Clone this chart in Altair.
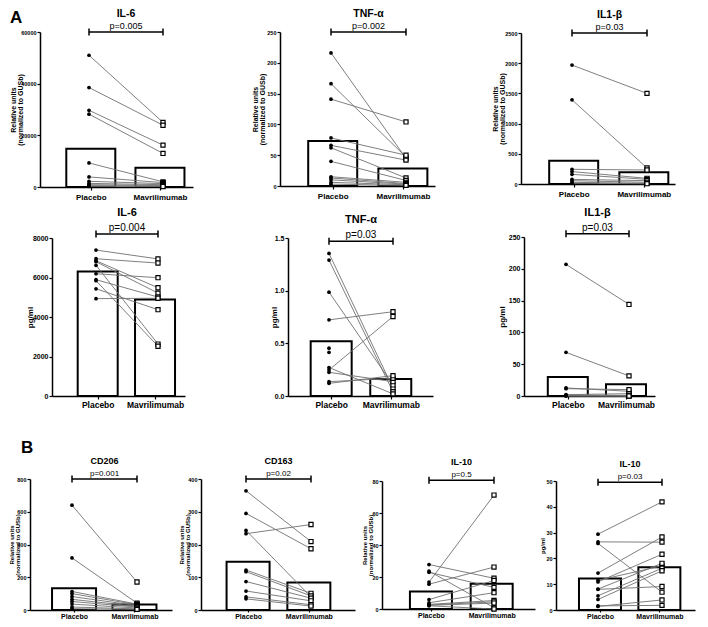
import altair as alt
import pandas as pd

FONT = "Liberation Sans"
M = 8            # page margin of the html page
W, H = 692, 611  # drawing size (708x627 window minus margins)

groups = ["Placebo", "Mavrilimumab"]
rel_title = ["Relative units", "(normalized to GUSb)"]
pg_title = "pg/ml"

# ---------------- values ----------------
# Row A1 : relative units
il6_rel_placebo = [51000, 38500, 29700, 28200, 9300, 3900, 2200, 1400, 900, 500, 250]
il6_rel_mav     = [25000, 23900, 16200, 13000, 2000, 1700, 1300, 900, 600, 400, 200]
il6_rel_bars    = [14850, 7450]
il6_rel_ticks   = [0, 20000, 40000, 60000]

tnf_rel_placebo = [216, 166, 141, 78, 66, 62, 40, 15, 13, 10, 6, 3]
tnf_rel_mav     = [45, 47, 104, 50, 42, 13, 9, 6, 4, 3, 2, 1]
tnf_rel_bars    = [73, 28.5]
tnf_rel_ticks   = [0, 50, 100, 150, 200, 250]

il1b_rel_placebo = [1969, 1394, 243, 205, 160, 77, 55, 28, 11]
il1b_rel_mav     = [1500, 265, 232, 94, 77, 55, 28, 11, 5]
il1b_rel_bars    = [385, 195]
il1b_rel_ticks   = [0, 500, 1000, 1500, 2000, 2500]

# Row A2 : pg/ml
il6_pg_placebo = [7390, 6950, 6850, 6800, 6620, 6190, 5890, 5840, 5430, 4930]
il6_pg_mav     = [6940, 6730, 5480, 5210, 2630, 5990, 5010, 2520, 4370, 4950]
il6_pg_bars    = [6310, 4880]
il6_pg_ticks   = [0, 2000, 4000, 6000, 8000]

tnf_pg_placebo = [1.354, 1.29, 0.986, 0.723, 0.454, 0.415, 0.27, 0.247, 0.225, 0.136, 0.12]
tnf_pg_mav     = [0.073, 0.04, 0.105, 0.80, None, None, 0.02, 0.755, 0.136, 0.168, 0.193]
tnf_pg_bars    = [0.52, 0.162]
tnf_pg_ticks   = [0, 0.5, 1.0, 1.5]

il1b_pg_placebo = [207, 68.6, 12.7, 11.5, 2.1, 1.5, 1.0, 0.5, 0.3, 0.2]
il1b_pg_mav     = [144, 31.6, 7.4, 10, 3.7, 1.0, 0.5, 0.3, 0.2, 0.1]
il1b_pg_bars    = [30, 18.5]
il1b_pg_ticks   = [0, 50, 100, 150, 200, 250]

# Row B
cd206_placebo = [640, 318, 113, 100, 82, 65, 52, 36, 18, 8]
cd206_mav     = [171, 42, 36, 32, 27, 22, 18, 12, 7, 4]
cd206_bars    = [133, 34]
cd206_ticks   = [0, 200, 400, 600, 800]

cd163_placebo = [364, 295, 243, 233, 122, 117, 87, 58, 40, 34]
cd163_mav     = [209, 187, 40, 261, 51, 43, 36, 28, 16, 12]
cd163_bars    = [147, 84]
cd163_ticks   = [0, 100, 200, 300, 400]

il10_rel_placebo = [27.8, 23.7, 22.9, 16.8, 15.5, 5.9, 3.9, 2.9, 2.5, 2.3, 2.0]
il10_rel_mav     = [19.2, 0.8, 13.5, 71.2, 26.2, 17.8, 10.2, 5.3, 4.5, 3.7, 0.0]
il10_rel_bars    = [11, 15.8]
il10_rel_ticks   = [0, 20, 40, 60, 80]

il10_pg_placebo = [29.4, 26.4, 25.8, 14.3, 11.5, 10.9, 8.1, 8.0, 5.5, 4.1, 1.6, 1.4]
il10_pg_mav     = [41.9, 26.3, 6.9, 28.3, 17.1, 21.6, 18.1, 9.1, 16.2, 15.2, 1.8, 3.9]
il10_pg_bars    = [12.2, 16.6]
il10_pg_ticks   = [0, 10, 20, 30, 40, 50]

panels = [
    dict(key="il6_rel", title="IL-6", p="p=0.005", pl=il6_rel_placebo, mv=il6_rel_mav, bars=il6_rel_bars,
         ymax=60000, ticks=il6_rel_ticks, fmt="d", ytitle=rel_title, bracket=60000, row=1),
    dict(key="tnf_rel", title="TNF-α", p="p=0.002", pl=tnf_rel_placebo, mv=tnf_rel_mav, bars=tnf_rel_bars,
         ymax=250, ticks=tnf_rel_ticks, fmt="d", ytitle=rel_title, bracket=250, row=1),
    dict(key="il1b_rel", title="IL1-β", p="p=0.03", pl=il1b_rel_placebo, mv=il1b_rel_mav, bars=il1b_rel_bars,
         ymax=2500, ticks=il1b_rel_ticks, fmt="d", ytitle=rel_title, bracket=2500, row=1),
    dict(key="il6_pg", title="IL-6", p="p=0.004", pl=il6_pg_placebo, mv=il6_pg_mav, bars=il6_pg_bars,
         ymax=8000, ticks=il6_pg_ticks, fmt="d", ytitle=pg_title, bracket=8200, row=2),
    dict(key="tnf_pg", title="TNF-α", p="p=0.03", pl=tnf_pg_placebo, mv=tnf_pg_mav, bars=tnf_pg_bars,
         ymax=1.5, ticks=tnf_pg_ticks, fmt=".1f", ytitle=pg_title, bracket=1.47, row=2),
    dict(key="il1b_pg", title="IL1-β", p="p=0.03", pl=il1b_pg_placebo, mv=il1b_pg_mav, bars=il1b_pg_bars,
         ymax=250, ticks=il1b_pg_ticks, fmt="d", ytitle=pg_title, bracket=255, row=2),
    dict(key="cd206", title="CD206", p="p=0.001", pl=cd206_placebo, mv=cd206_mav, bars=cd206_bars,
         ymax=800, ticks=cd206_ticks, fmt="d", ytitle=rel_title, bracket=800, row=3),
    dict(key="cd163", title="CD163", p="p=0.02", pl=cd163_placebo, mv=cd163_mav, bars=cd163_bars,
         ymax=400, ticks=cd163_ticks, fmt="d", ytitle=rel_title, bracket=400, row=3),
    dict(key="il10_rel", title="IL-10", p="p=0.5", pl=il10_rel_placebo, mv=il10_rel_mav, bars=il10_rel_bars,
         ymax=80, ticks=il10_rel_ticks, fmt="d", ytitle=rel_title, bracket=80.5, row=3),
    dict(key="il10_pg", title="IL-10", p="p=0.03", pl=il10_pg_placebo, mv=il10_pg_mav, bars=il10_pg_bars,
         ymax=50, ticks=il10_pg_ticks, fmt="d", ytitle=pg_title, bracket=49.5, row=3),
]

# ---------------- layout (pixel positions in the 708x627 picture) ----------------
# axis x, right end of x axis, placebo centre, mavrilimumab centre, y of 0, y of top tick, bar width, y-title offset
layout = {
    "il6_rel":  (40, 193, 89, 163, 187, 32, 49, -27),
    "tnf_rel":  (280, 435, 331, 406, 186, 32, 49, -25),
    "il1b_rel": (521, 675, 572, 647, 184, 33, 49, -26),
    "il6_pg":   (52, 185, 96, 158, 396, 238, 40, -22),
    "tnf_pg":   (288, 433, 329, 393, 396, 238, 41, -14),
    "il1b_pg":  (524, 655, 566, 629, 396, 237, 40, -22),
    "cd206":    (30, 172, 72, 137, 610, 479, 44, -19),
    "cd163":    (201, 355, 246, 311, 610, 479, 43, -20),
    "il10_rel": (382, 535, 429, 494, 609, 481, 42, -18),
    "il10_pg":  (556, 695, 598, 662, 610, 481, 42, -14),
}
row_style = {
    1: dict(title=10.5, p=9, tick=5.5, xlab=8, yt=7, ylh=7.5, tdy=-15, xpad=3, xtick=3),
    2: dict(title=11, p=10, tick=7, xlab=8.5, yt=8, ylh=8.5, tdy=-18, xpad=1, xtick=3),
    3: dict(title=9, p=8, tick=5.5, xlab=7, yt=6, ylh=6.2, tdy=-15, xpad=0, xtick=2),
}

label_expr = f"datum.value == 0 ? '{groups[0]}' : '{groups[1]}'"


def panel_layers(pn):
    ax, rx, c0, c1, yb, yt, bw, ytx = layout[pn["key"]]
    st = row_style[pn["row"]]
    span = c1 - c0
    xs = alt.Scale(domain=[(ax - c0) / span, 1 + (rx - c1) / span],
                   range=[ax - M, rx - M], nice=False, zero=False)
    ys = alt.Scale(domain=[0, pn["ymax"]], range=[yb - M, yt - M], nice=False, zero=False)
    xaxis = alt.Axis(orient="bottom", offset=(yb - M) - H, values=[0, 1], labelExpr=label_expr,
                     title=None, labelAngle=0, labelFont=FONT, labelFontWeight="bold",
                     labelFontSize=st["xlab"], labelPadding=st["xpad"], labelColor="black",
                     tickSize=st["xtick"], tickColor="black", tickWidth=1.2, domainColor="black",
                     domainWidth=1.5, grid=False, labelFlush=False, labelOverlap=False)
    yaxis = alt.Axis(orient="left", offset=-(ax - M), values=pn["ticks"], format=pn["fmt"],
                     title=pn["ytitle"], titleX=ytx, titleBaseline="middle", titleFont=FONT,
                     titleFontWeight="bold", titleFontSize=st["yt"], titleLineHeight=st["ylh"],
                     titleColor="black", labelFont=FONT, labelFontWeight="bold",
                     labelFontSize=st["tick"], labelPadding=1, labelColor="black",
                     tickSize=3, tickColor="black", tickWidth=1.2, domainColor="black",
                     domainWidth=1.5, grid=False, labelFlush=False, labelOverlap=False)

    df_bar = pd.DataFrame({"idx": [0, 1], "value": pn["bars"]})
    rows = []
    for i, (a, b) in enumerate(zip(pn["pl"], pn["mv"])):
        rows.append({"id": i, "idx": 0, "value": a})
        rows.append({"id": i, "idx": 1, "value": b})
    df_pts = pd.DataFrame(rows)
    df_br = pd.DataFrame({"x0": [0], "x1": [1], "y": [pn["bracket"]], "p": [pn["p"]],
                          "t": [pn["title"]], "xm": [0.5]})
    df_ends = pd.DataFrame({"idx": [0, 1], "y": [pn["bracket"], pn["bracket"]]})

    X = lambda f: alt.X(f, scale=xs, axis=None)
    Y = lambda f: alt.Y(f, scale=ys, axis=None)

    bars = alt.Chart(df_bar).mark_bar(orient="vertical", size=bw, fill="white", stroke="black",
                                      strokeWidth=2).encode(
        x=alt.X("idx:Q", scale=xs, axis=xaxis),
        y=alt.Y("value:Q", scale=ys, axis=yaxis),
        y2=alt.Y2(datum=0))
    lines = alt.Chart(df_pts).mark_line(color="#707070", strokeWidth=0.9).encode(
        x=X("idx:Q"), y=Y("value:Q"), detail="id:N")
    pts_pl = alt.Chart(df_pts).transform_filter("datum.idx == 0").mark_point(
        shape="circle", filled=True, color="black", size=14, opacity=1).encode(
        x=X("idx:Q"), y=Y("value:Q"))
    pts_mv = alt.Chart(df_pts).transform_filter("datum.idx == 1").mark_point(
        shape="square", filled=True, fill="white", stroke="black", strokeWidth=1.2, size=17,
        opacity=1).encode(x=X("idx:Q"), y=Y("value:Q"))
    rule = alt.Chart(df_br).mark_rule(color="black", strokeWidth=1.5).encode(
        x=X("x0:Q"), x2=alt.X2("x1:Q"), y=Y("y:Q"))
    ends = alt.Chart(df_ends).mark_point(shape="M0,-1L0,1", size=49, filled=False, stroke="black",
                                         strokeWidth=1.5, opacity=1).encode(x=X("idx:Q"), y=Y("y:Q"))
    ptxt = alt.Chart(df_br).mark_text(font=FONT, fontSize=st["p"], dy=-3, baseline="alphabetic",
                                      color="black").encode(x=X("xm:Q"), y=Y("y:Q"), text="p:N")
    ttxt = alt.Chart(df_br).mark_text(font=FONT, fontSize=st["title"], fontWeight="bold",
                                      dy=st["tdy"], baseline="alphabetic", color="black").encode(
        x=X("xm:Q"), y=Y("y:Q"), text="t:N")
    return [bars, lines, pts_pl, pts_mv, rule, ends, ptxt, ttxt]


layers = []
for pn in panels:
    layers.extend(panel_layers(pn))

panel_letters = pd.DataFrame({"t": ["A", "B"]})
letter_a = alt.Chart(panel_letters).transform_filter("datum.t == 'A'").mark_text(
    font=FONT, fontSize=17, fontWeight="bold", align="left", baseline="alphabetic", color="black"
).encode(x=alt.value(2), y=alt.value(15), text="t:N")
letter_b = alt.Chart(panel_letters).transform_filter("datum.t == 'B'").mark_text(
    font=FONT, fontSize=17, fontWeight="bold", align="left", baseline="alphabetic", color="black"
).encode(x=alt.value(13), y=alt.value(445), text="t:N")
layers.extend([letter_a, letter_b])

chart = alt.layer(*layers).resolve_scale(x="independent", y="independent").properties(
    width=W, height=H, padding=0, autosize=alt.AutoSizeParams(type="none")
).configure_view(strokeWidth=0)

chart.save("out.html", embed_options={"renderer": "svg", "actions": False})
